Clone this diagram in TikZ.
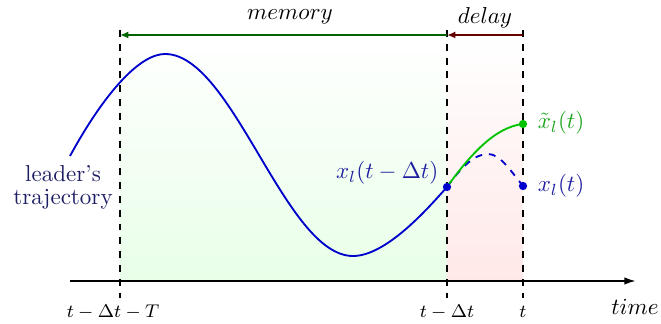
\documentclass[tikz,border=0pt]{standalone}
\usetikzlibrary{arrows.meta}
\definecolor{trajblue}{RGB}{0,0,204}
\definecolor{lblblue}{RGB}{30,30,160}
\definecolor{leadercol}{RGB}{30,30,100}
\definecolor{predgreen}{RGB}{0,195,0}
\definecolor{lblgreen}{RGB}{30,165,30}
\definecolor{memgreen}{RGB}{0,100,0}
\definecolor{delred}{RGB}{100,0,0}
\begin{document}
\begin{tikzpicture}[x=0.434pt,y=-0.434pt,
  traj/.style={trajblue,line width=0.8pt},
  pred/.style={predgreen,line width=0.8pt},
  vline/.style={black,semithick,dashed},
  axisline/.style={black,line width=0.8pt,-{Latex[length=5pt,width=3.2pt]}},
  spanarrow/.style={line width=0.8pt,-{Latex[length=3.6pt,width=3pt]}},
  dot/.style={circle,inner sep=0pt,minimum size=3.6pt},
  tick/.style={font=\footnotesize},
  ]
\useasboundingbox (0,0) rectangle (661,324);
% shaded regions
\shade[top color=white,bottom color=green!9] (120,35) rectangle (447,281);
\shade[top color=white,bottom color=red!9] (447,35) rectangle (523,281);
% coordinates
\coordinate (ax0) at (70,281);
\coordinate (ax1) at (636,281);
\coordinate (v1t) at (120,30); \coordinate (v1b) at (120,298);
\coordinate (v2t) at (447,30); \coordinate (v2b) at (447,298);
\coordinate (v3t) at (523,30); \coordinate (v3b) at (523,298);
\coordinate (m0) at (120,35); \coordinate (m1) at (447,35); \coordinate (m2) at (523,35);
\coordinate (c0) at (70,156);
\coordinate (c1) at (165,54);
\coordinate (c2) at (353,256);
\coordinate (c3) at (447,187);
\coordinate (c4) at (523,124);
\coordinate (c5) at (523,186);
\coordinate (cp) at (488,154);
% vertical dashed lines
\draw[vline] (v1t) -- (v1b);
\draw[vline] (v2t) -- (v2b);
\draw[vline] (v3t) -- (v3b);
% axis
\draw[axisline] (ax0) -- (ax1);
% span arrows
\draw[spanarrow,memgreen] (m1) -- (m0);
\draw[spanarrow,delred] (m2) -- (m1);
\node (mem) at (290,17) {$memory$};
\node (del) at (485,18) {$delay$};
% trajectory
\draw[traj] (c0) .. controls (105,92) and (140,54) .. (c1)
  .. controls (233,54) and (285,256) .. (c2)
  .. controls (385,256) and (425,212) .. (c3);
\draw[traj,dashed] (c3) .. controls (462,166) and (475,154) .. (cp)
  .. controls (500,154) and (510,170) .. (c5);
\draw[pred] (c3) .. controls (470,155) and (495,127) .. (c4);
% dots
\node[dot,fill=trajblue] (d1) at (c3) {};
\node[dot,fill=trajblue] (d2) at (c5) {};
\node[dot,fill=predgreen] (d3) at (c4) {};
% labels
\node[anchor=east,text=lblblue,inner sep=1pt] (l1) at (441,173) {$x_l(t-\Delta t)$};
\node[anchor=west,text=lblgreen,inner sep=1pt] (l2) at (535,123) {$\tilde{x}_l(t)$};
\node[anchor=west,text=lblblue,inner sep=1pt] (l3) at (535,186) {$x_l(t)$};
\node[align=center,text=leadercol,inner sep=0pt] (lead) at (63,187) {leader's\\[-2pt]trajectory};
% tick labels
\node[tick] (t1) at (113,312) {$t-\Delta t-T$};
\node[tick] (t2) at (447,312) {$t-\Delta t$};
\node[tick] (t3) at (523,312) {$t$};
\node (tm) at (635,307) {$time$};
\end{tikzpicture}
\end{document}
